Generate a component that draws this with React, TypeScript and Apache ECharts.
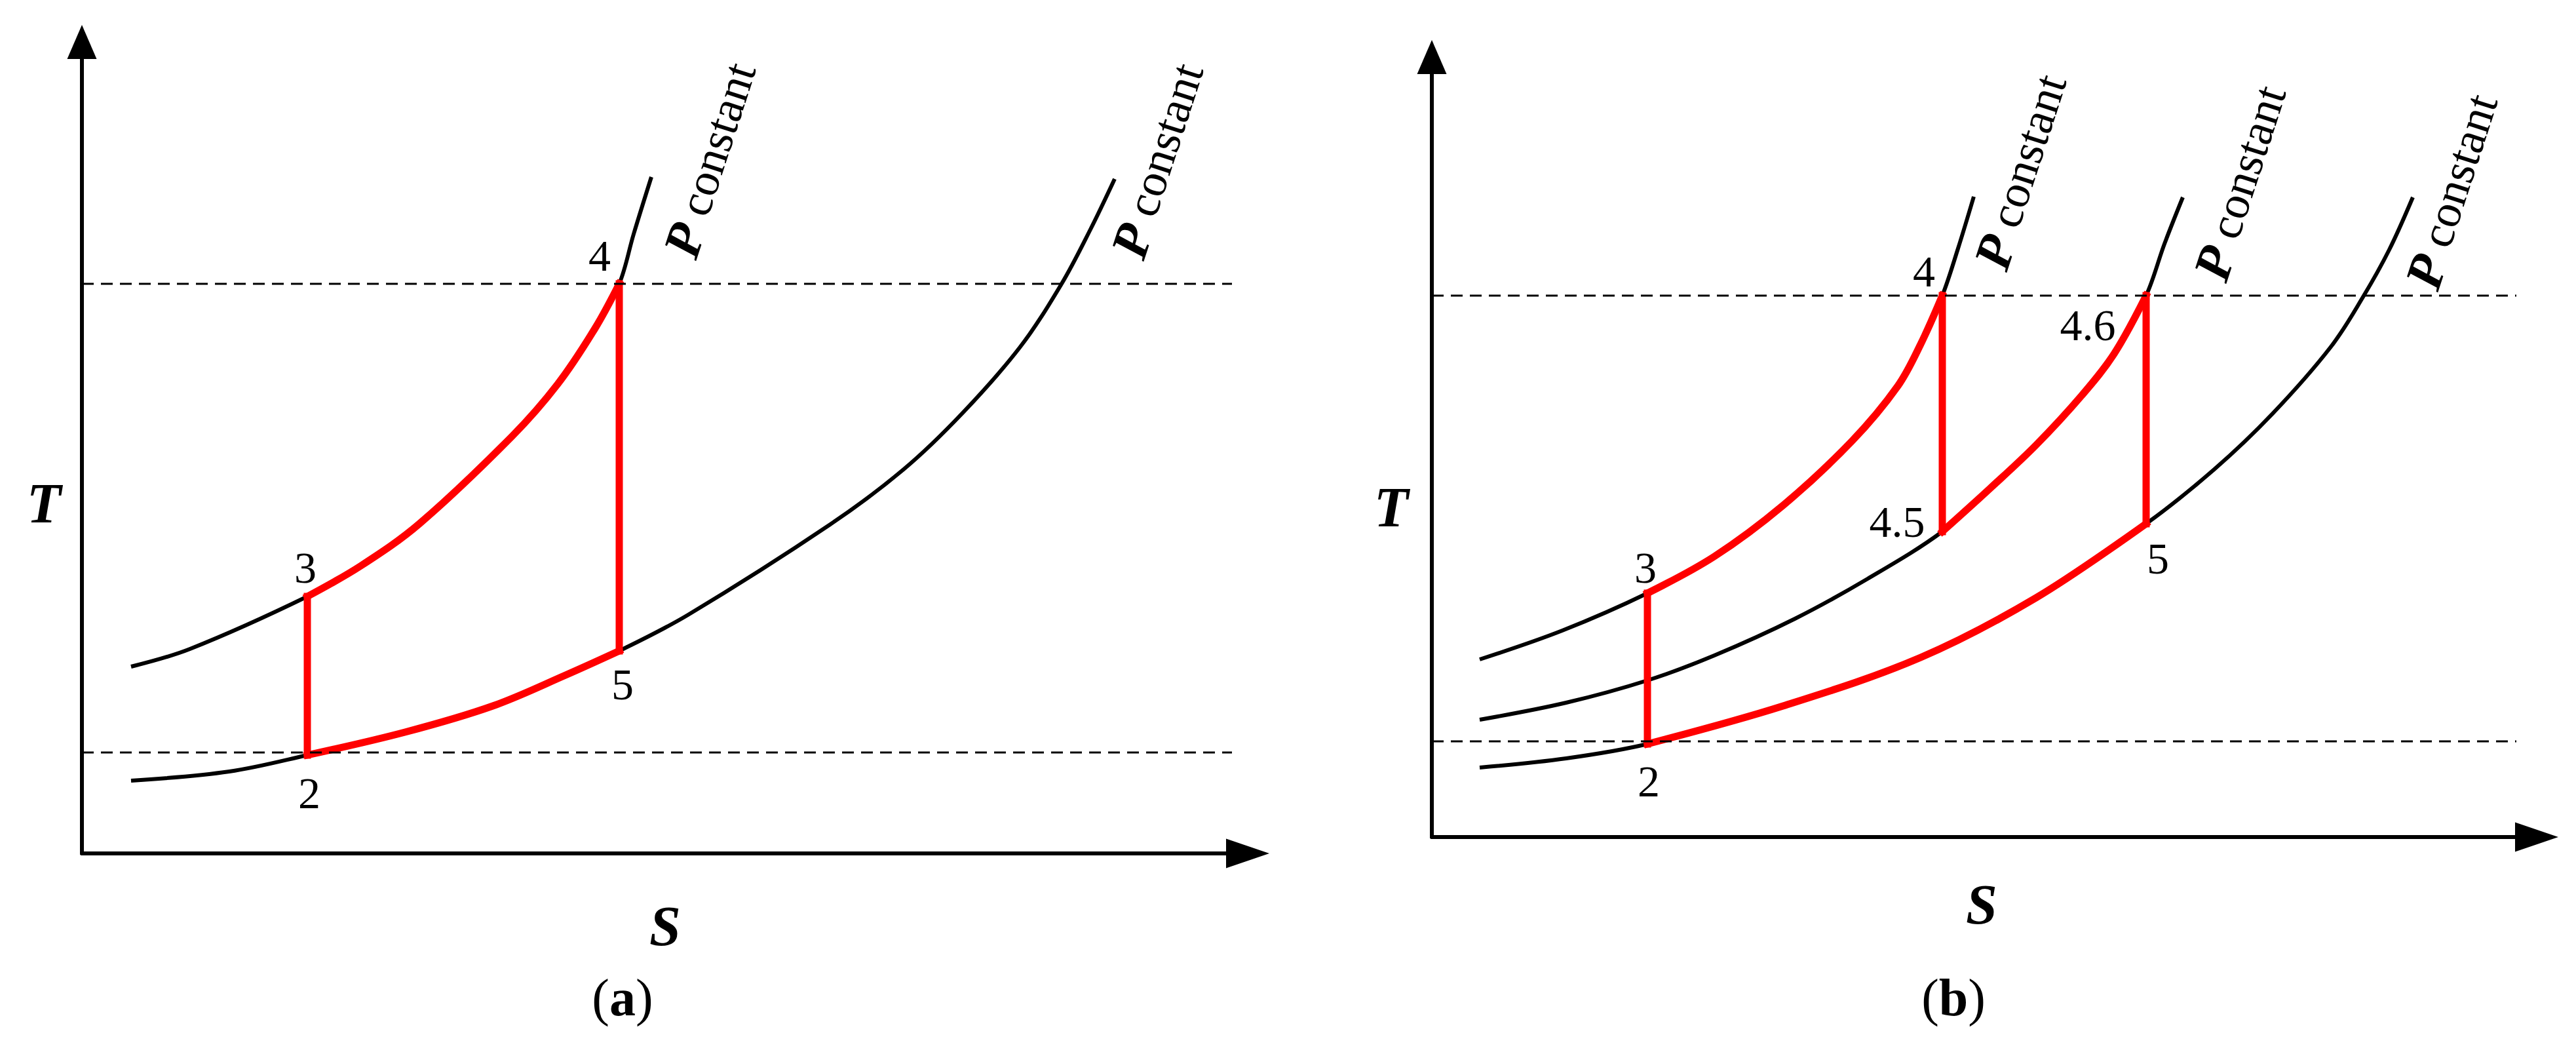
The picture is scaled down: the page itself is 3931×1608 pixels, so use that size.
import React, { useEffect, useRef } from "react";
import * as echarts from "echarts";

type Pt = [number, number];

// Entropy S / temperature T in arbitrary units (no scale is printed)
// ---- Panel (a) ----
const aIsobarHigh: Pt[] = [[75, 285], [165, 312], [344, 392], [426, 439], [515, 503], [656, 636], [726, 716], [783, 801], [820, 869], [842, 945], [869, 1032]];
const aIsobarLow: Pt[] = [[75, 111], [225, 125], [344, 150], [493, 185], [627, 225], [738, 272], [820, 309], [925, 364], [1142, 502], [1254, 586], [1343, 671], [1432, 773], [1495, 869], [1539, 952], [1576, 1029]];
const aHeat: Pt[] = aIsobarHigh.slice(2, 9); // 3 -> 4
const aCool: Pt[] = aIsobarLow.slice(2, 7); // 2 -> 5
const aComp: Pt[] = [[344, 150], [344, 392]]; // 2 -> 3
const aExp: Pt[] = [[820, 869], [820, 309]]; // 4 -> 5
const aTLevels: number[] = [869, 154];
const aSEnd = 1755;
const aSMax = 1779;
const aTMax = 1238;

// ---- Panel (b) ----
const bIsobarHigh: Pt[] = [[73, 271], [199, 315], [329, 372], [431, 428], [536, 506], [641, 604], [711, 688], [746, 752], [779, 826], [803, 898], [827, 977]];
const bIsobarMid: Pt[] = [[73, 179], [205, 205], [329, 239], [431, 277], [554, 333], [665, 394], [779, 466], [852, 532], [922, 598], [992, 674], [1041, 737], [1090, 826], [1118, 905], [1146, 976]];
const bIsobarLow: Pt[] = [[73, 106], [205, 120], [329, 142], [536, 200], [746, 274], [922, 365], [1090, 478], [1194, 561], [1283, 646], [1372, 748], [1421, 824], [1461, 896], [1497, 976]];
const bHeat1: Pt[] = bIsobarHigh.slice(2, 9); // 3 -> 4
const bHeat2: Pt[] = bIsobarMid.slice(6, 12); // 4.5 -> 4.6
const bCool: Pt[] = bIsobarLow.slice(2, 7); // 2 -> 5
const bComp: Pt[] = [[329, 142], [329, 372]]; // 2 -> 3
const bExp1: Pt[] = [[779, 826], [779, 466]]; // 4 -> 4.5
const bExp2: Pt[] = [[1090, 826], [1090, 478]]; // 4.6 -> 5
const bTLevels: number[] = [826, 146];
const bSEnd = 1655;
const bSMax = 1686;
const bTMax = 1190;

const FONT = "Liberation Serif, serif";
const RED = "#ff0000";

function lineSeries(data: Pt[], idx: number, color: string, width: number, z: number, smooth: boolean, type: any = "solid", cap = "butt") {
  return {
    type: "line",
    xAxisIndex: idx,
    yAxisIndex: idx,
    data,
    symbol: "none",
    showSymbol: false,
    smooth: smooth ? 0.35 : false,
    silent: true,
    z,
    lineStyle: { color, width, type, cap, join: "miter" },
    emphasis: { disabled: true },
  };
}

function dashed(t: number, sEnd: number, idx: number) {
  return lineSeries([[0, t], [sEnd, t]], idx, "#000", 3, 5, false, [18, 11]);
}

function axisPair(idx: number, sMax: number, tMax: number) {
  const common = {
    type: "value",
    gridIndex: idx,
    min: 0,
    axisLabel: { show: false },
    axisTick: { show: false },
    splitLine: { show: false },
  };
  return {
    x: {
      ...common,
      max: sMax,
      axisLine: { show: true, onZero: false, symbol: ["none", "triangle"], symbolSize: [45, 66], lineStyle: { color: "#000", width: 6 } },
    },
    y: {
      ...common,
      max: tMax,
      axisLine: { show: true, onZero: false, symbol: ["none", "triangle"], symbolSize: [45, 52], lineStyle: { color: "#000", width: 6 } },
    },
  };
}

function label(x: number, y: number, text: string, size = 68) {
  return {
    type: "text",
    x,
    y,
    silent: true,
    style: { text, fontFamily: FONT, fontSize: size, fill: "#000", align: "center", verticalAlign: "middle" },
  };
}

function italicBold(x: number, y: number, text: string) {
  return {
    type: "text",
    x,
    y,
    silent: true,
    style: { text, fontFamily: FONT, fontSize: 86, fontStyle: "italic", fontWeight: "bold", fill: "#000", align: "center", verticalAlign: "middle" },
  };
}

function pConst(x: number, y: number) {
  return {
    type: "text",
    x,
    y,
    rotation: (72 * Math.PI) / 180,
    silent: true,
    style: {
      text: "{p|P}{c| constant}",
      align: "center",
      verticalAlign: "middle",
      fill: "#000",
      rich: {
        p: { fontFamily: FONT, fontSize: 80, fontStyle: "italic", fontWeight: "bold", fill: "#000" },
        c: { fontFamily: FONT, fontSize: 72, fill: "#000" },
      },
    },
  };
}

function caption(x: number, y: number, letter: string) {
  return {
    type: "text",
    x,
    y,
    silent: true,
    style: {
      text: "{r|(}{b|" + letter + "}{r|)}",
      align: "center",
      verticalAlign: "middle",
      fill: "#000",
      rich: {
        r: { fontFamily: FONT, fontSize: 80, fill: "#000" },
        b: { fontFamily: FONT, fontSize: 80, fontWeight: "bold", fill: "#000" },
      },
    },
  };
}

export default function App() {
  const ref = useRef<HTMLDivElement>(null);

  useEffect(() => {
    if (!ref.current) return;
    const chart = echarts.init(ref.current, undefined, { renderer: "svg" });
    const A = axisPair(0, aSMax, aTMax);
    const B = axisPair(1, bSMax, bTMax);

    const series: any[] = [
      // panel (a)
      lineSeries(aIsobarHigh, 0, "#000", 6, 2, true),
      lineSeries(aIsobarLow, 0, "#000", 6, 2, true),
      lineSeries(aHeat, 0, RED, 11, 3, true, "solid", "square"),
      lineSeries(aCool, 0, RED, 11, 3, true, "solid", "square"),
      lineSeries(aComp, 0, RED, 11, 3, false, "solid", "square"),
      lineSeries(aExp, 0, RED, 11, 3, false, "solid", "square"),
      ...aTLevels.map((t) => dashed(t, aSEnd, 0)),
      // panel (b)
      lineSeries(bIsobarHigh, 1, "#000", 6, 2, true),
      lineSeries(bIsobarMid, 1, "#000", 6, 2, true),
      lineSeries(bIsobarLow, 1, "#000", 6, 2, true),
      lineSeries(bHeat1, 1, RED, 11, 3, true, "solid", "square"),
      lineSeries(bHeat2, 1, RED, 11, 3, true, "solid", "square"),
      lineSeries(bCool, 1, RED, 11, 3, true, "solid", "square"),
      lineSeries(bComp, 1, RED, 11, 3, false, "solid", "square"),
      lineSeries(bExp1, 1, RED, 11, 3, false, "solid", "square"),
      lineSeries(bExp2, 1, RED, 11, 3, false, "solid", "square"),
      ...bTLevels.map((t) => dashed(t, bSEnd, 1)),
    ];

    const graphic: any[] = [
      // panel (a)
      italicBold(67, 768, "T"),
      italicBold(1015, 1413, "S"),
      caption(950, 1522, "a"),
      label(915, 390, "4"),
      label(466, 866, "3"),
      label(472, 1210, "2"),
      label(950, 1044, "5"),
      pConst(1084, 244),
      pConst(1767, 245),
      // panel (b)
      italicBold(2123, 774, "T"),
      italicBold(3024, 1380, "S"),
      caption(2981, 1522, "b"),
      label(2936, 414, "4"),
      label(3186, 496, "4.6"),
      label(2895, 796, "4.5"),
      label(2511, 866, "3"),
      label(3293, 852, "5"),
      label(2516, 1192, "2"),
      pConst(3084, 262),
      pConst(3419, 279),
      pConst(3742, 292),
    ];

    chart.setOption({
      animation: false,
      backgroundColor: "#ffffff",
      grid: [
        { left: 125, top: 64, width: aSMax, height: aTMax, containLabel: false, outerBoundsMode: "none" },
        { left: 2185, top: 87, width: bSMax, height: bTMax, containLabel: false, outerBoundsMode: "none" },
      ],
      xAxis: [A.x, B.x],
      yAxis: [A.y, B.y],
      series,
      graphic,
    } as any);
    return () => chart.dispose();
  }, []);

  return (
    <div
      ref={ref}
      style={{ position: "fixed", left: 0, top: 0, width: 3931, height: 1608, background: "#fff" }}
    />
  );
}
